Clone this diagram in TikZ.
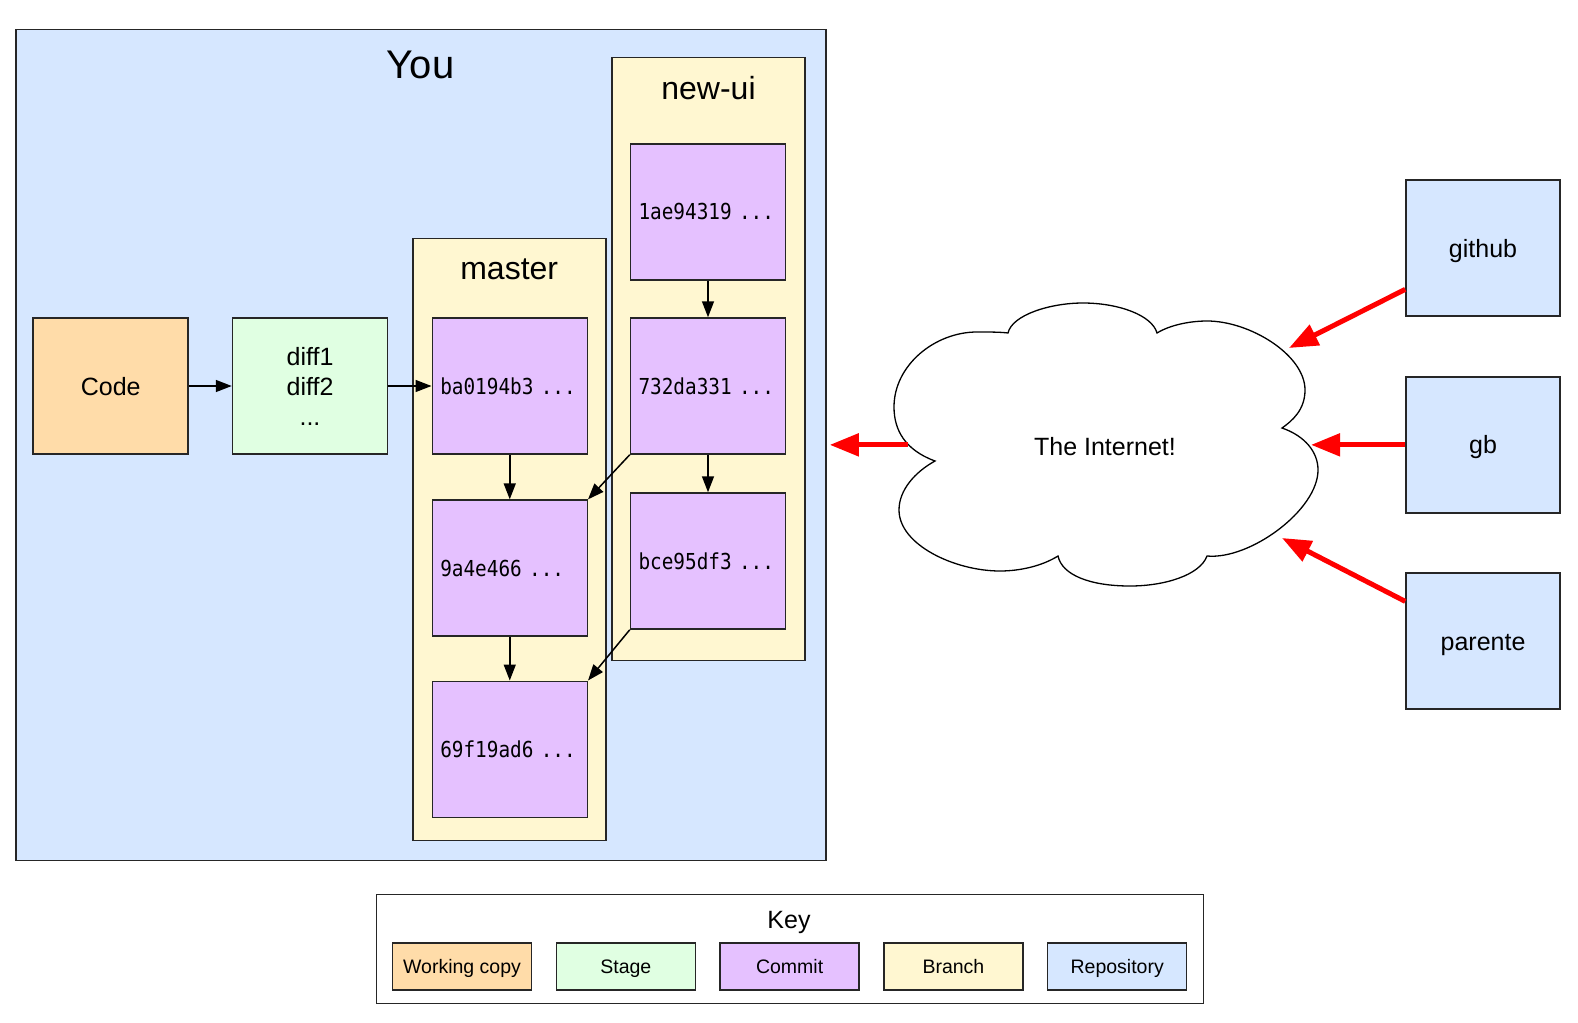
\documentclass[tikz,border=0pt]{standalone}
\usepackage{fontspec}
\setmainfont{Liberation Sans}
\newfontfamily\hashfont[FakeStretch=0.88]{DejaVu Sans Mono}
\usetikzlibrary{arrows.meta,positioning}

\definecolor{workcol}{HTML}{FFDCA9}
\definecolor{stagecol}{HTML}{E0FFE2}
\definecolor{commitcol}{HTML}{E5C1FF}
\definecolor{branchcol}{HTML}{FFF7D1}
\definecolor{repocol}{HTML}{D6E7FF}

\tikzset{
  box/.style={draw=black!85, line width=1.5pt, inner sep=0pt, minimum width=155pt, minimum height=136pt, font=\fontsize{25}{30}\selectfont},
  oneline/.style={text height=23pt, text depth=5pt},
  repo/.style={box, oneline, fill=repocol},
  commit/.style={box, fill=commitcol, text width=139pt, inner xsep=8pt, align=left, font=\hashfont\fontsize{22}{26}\selectfont},
  branch/.style={box, fill=branchcol},
  branchname/.style={font=\fontsize{32}{38}\selectfont},
  keybox/.style={draw=black!85, line width=1.5pt, inner sep=0pt, text height=18pt, text depth=4pt, minimum width=139pt, minimum height=47pt, font=\fontsize{19.5}{23}\selectfont},
  arrow/.style={line width=1.5pt, -{Triangle[length=16pt,width=12pt]}},
  redarrow/.style={draw=red, line width=5pt, -{Triangle[length=29pt,width=22pt]}}
}

\begin{document}
\begin{tikzpicture}[x=1pt,y=-1pt]
\useasboundingbox (0,0) rectangle (1578,1022);
% local repository
\node[repo, minimum width=810pt, minimum height=831pt] (you) at (421,444.85) {};
\node[font=\fontsize{40}{48}\selectfont] (youname) at (420.7,65.4) {You};
\node[box, oneline, fill=workcol] (code) at (110.7,386) {Code};
\node[box, fill=stagecol, align=center] (stage) at (310,386) {diff1\\diff2\\...};
\node[branch, minimum width=193pt, minimum height=602pt] (master) at (509.25,539.4) {};
\node[branchname] (mastername) at (509.2,269.7) {master};
\node[branch, minimum width=193pt, minimum height=603pt] (newui) at (708.5,358.8) {};
\node[branchname] (newuiname) at (708.5,87.6) {new-ui};
\node[commit] (ba) at (509.75,386) {ba0194b3 ...};
\node[commit] (c9a4e) at (509.75,568.1) {9a4e466 ...};
\node[commit] (c69f) at (509.75,749.25) {69f19ad6 ...};
\node[commit] (c1ae) at (708,211.85) {1ae94319 ...};
\node[commit] (c732) at (708,386) {732da331 ...};
\node[commit] (cbce) at (708,561) {bce95df3 ...};
\draw[arrow] (code) -- (stage);
\draw[arrow] (stage) -- (ba);
\draw[arrow] (ba) -- (c9a4e);
\draw[arrow] (c9a4e) -- (c69f);
\draw[arrow] (c1ae) -- (c732);
\draw[arrow] (c732) -- (cbce);
\draw[arrow] (c732.south west) -- (c9a4e.north east);
\draw[arrow] (cbce.south west) -- (c69f.north east);
% the cloud
\draw[line width=1.3pt, fill=white] (1008,333)
  .. controls (1012,315) and (1050,303) .. (1083,303)
  .. controls (1118,303) and (1152,315) .. (1157,333)
  .. controls (1170,325) and (1190,321) .. (1207,321)
  .. controls (1250,321) and (1305,355) .. (1305,390)
  .. controls (1305,410) and (1292,421) .. (1282,428)
  .. controls (1305,436) and (1318,452) .. (1318,470)
  .. controls (1318,510) and (1250,560) .. (1207,556)
  .. controls (1200,575) and (1165,586) .. (1130,586)
  .. controls (1090,586) and (1062,575) .. (1058,556)
  .. controls (1042,566) and (1020,571) .. (1000,571)
  .. controls (955,571) and (899,545) .. (899,510)
  .. controls (899,490) and (915,472) .. (935,461)
  .. controls (905,450) and (894,430) .. (894,407)
  .. controls (894,365) and (935,332) .. (977,332)
  .. controls (990,332) and (1000,332) .. cycle;
\node[font=\fontsize{25}{30}\selectfont] (internet) at (1105,447) {The Internet!};
\coordinate (cloudW) at (908,444.85);
\coordinate (cloudNE) at (1289,348);
\coordinate (cloudE) at (1311,444.85);
\coordinate (cloudSE) at (1282,538);
% remotes
\node[repo, minimum width=154pt] (github) at (1483,248) {github};
\node[repo, minimum width=154pt] (gb) at (1483,444.85) {gb};
\node[repo, minimum width=154pt] (parente) at (1483,641) {parente};
\draw[redarrow] (github.208) -- (cloudNE);
\draw[redarrow] (gb.west) -- (cloudE);
\draw[redarrow] (parente.153) -- (cloudSE);
\draw[redarrow] (cloudW) -- ([xshift=3pt]you.east);
% key
\node[draw=black!85, line width=1.5pt, inner sep=0pt, minimum width=827pt, minimum height=109pt] (key) at (790,949) {};
\node[font=\fontsize{25}{30}\selectfont] (keyname) at (789,922) {Key};
\foreach \txt/\col [count=\i] in {Working copy/workcol, Stage/stagecol, Commit/commitcol, Branch/branchcol, Repository/repocol}
  \node[keybox, fill=\col] (key\i) at ({298.2+163.8*\i},966.7) {\txt};
\end{tikzpicture}
\end{document}
